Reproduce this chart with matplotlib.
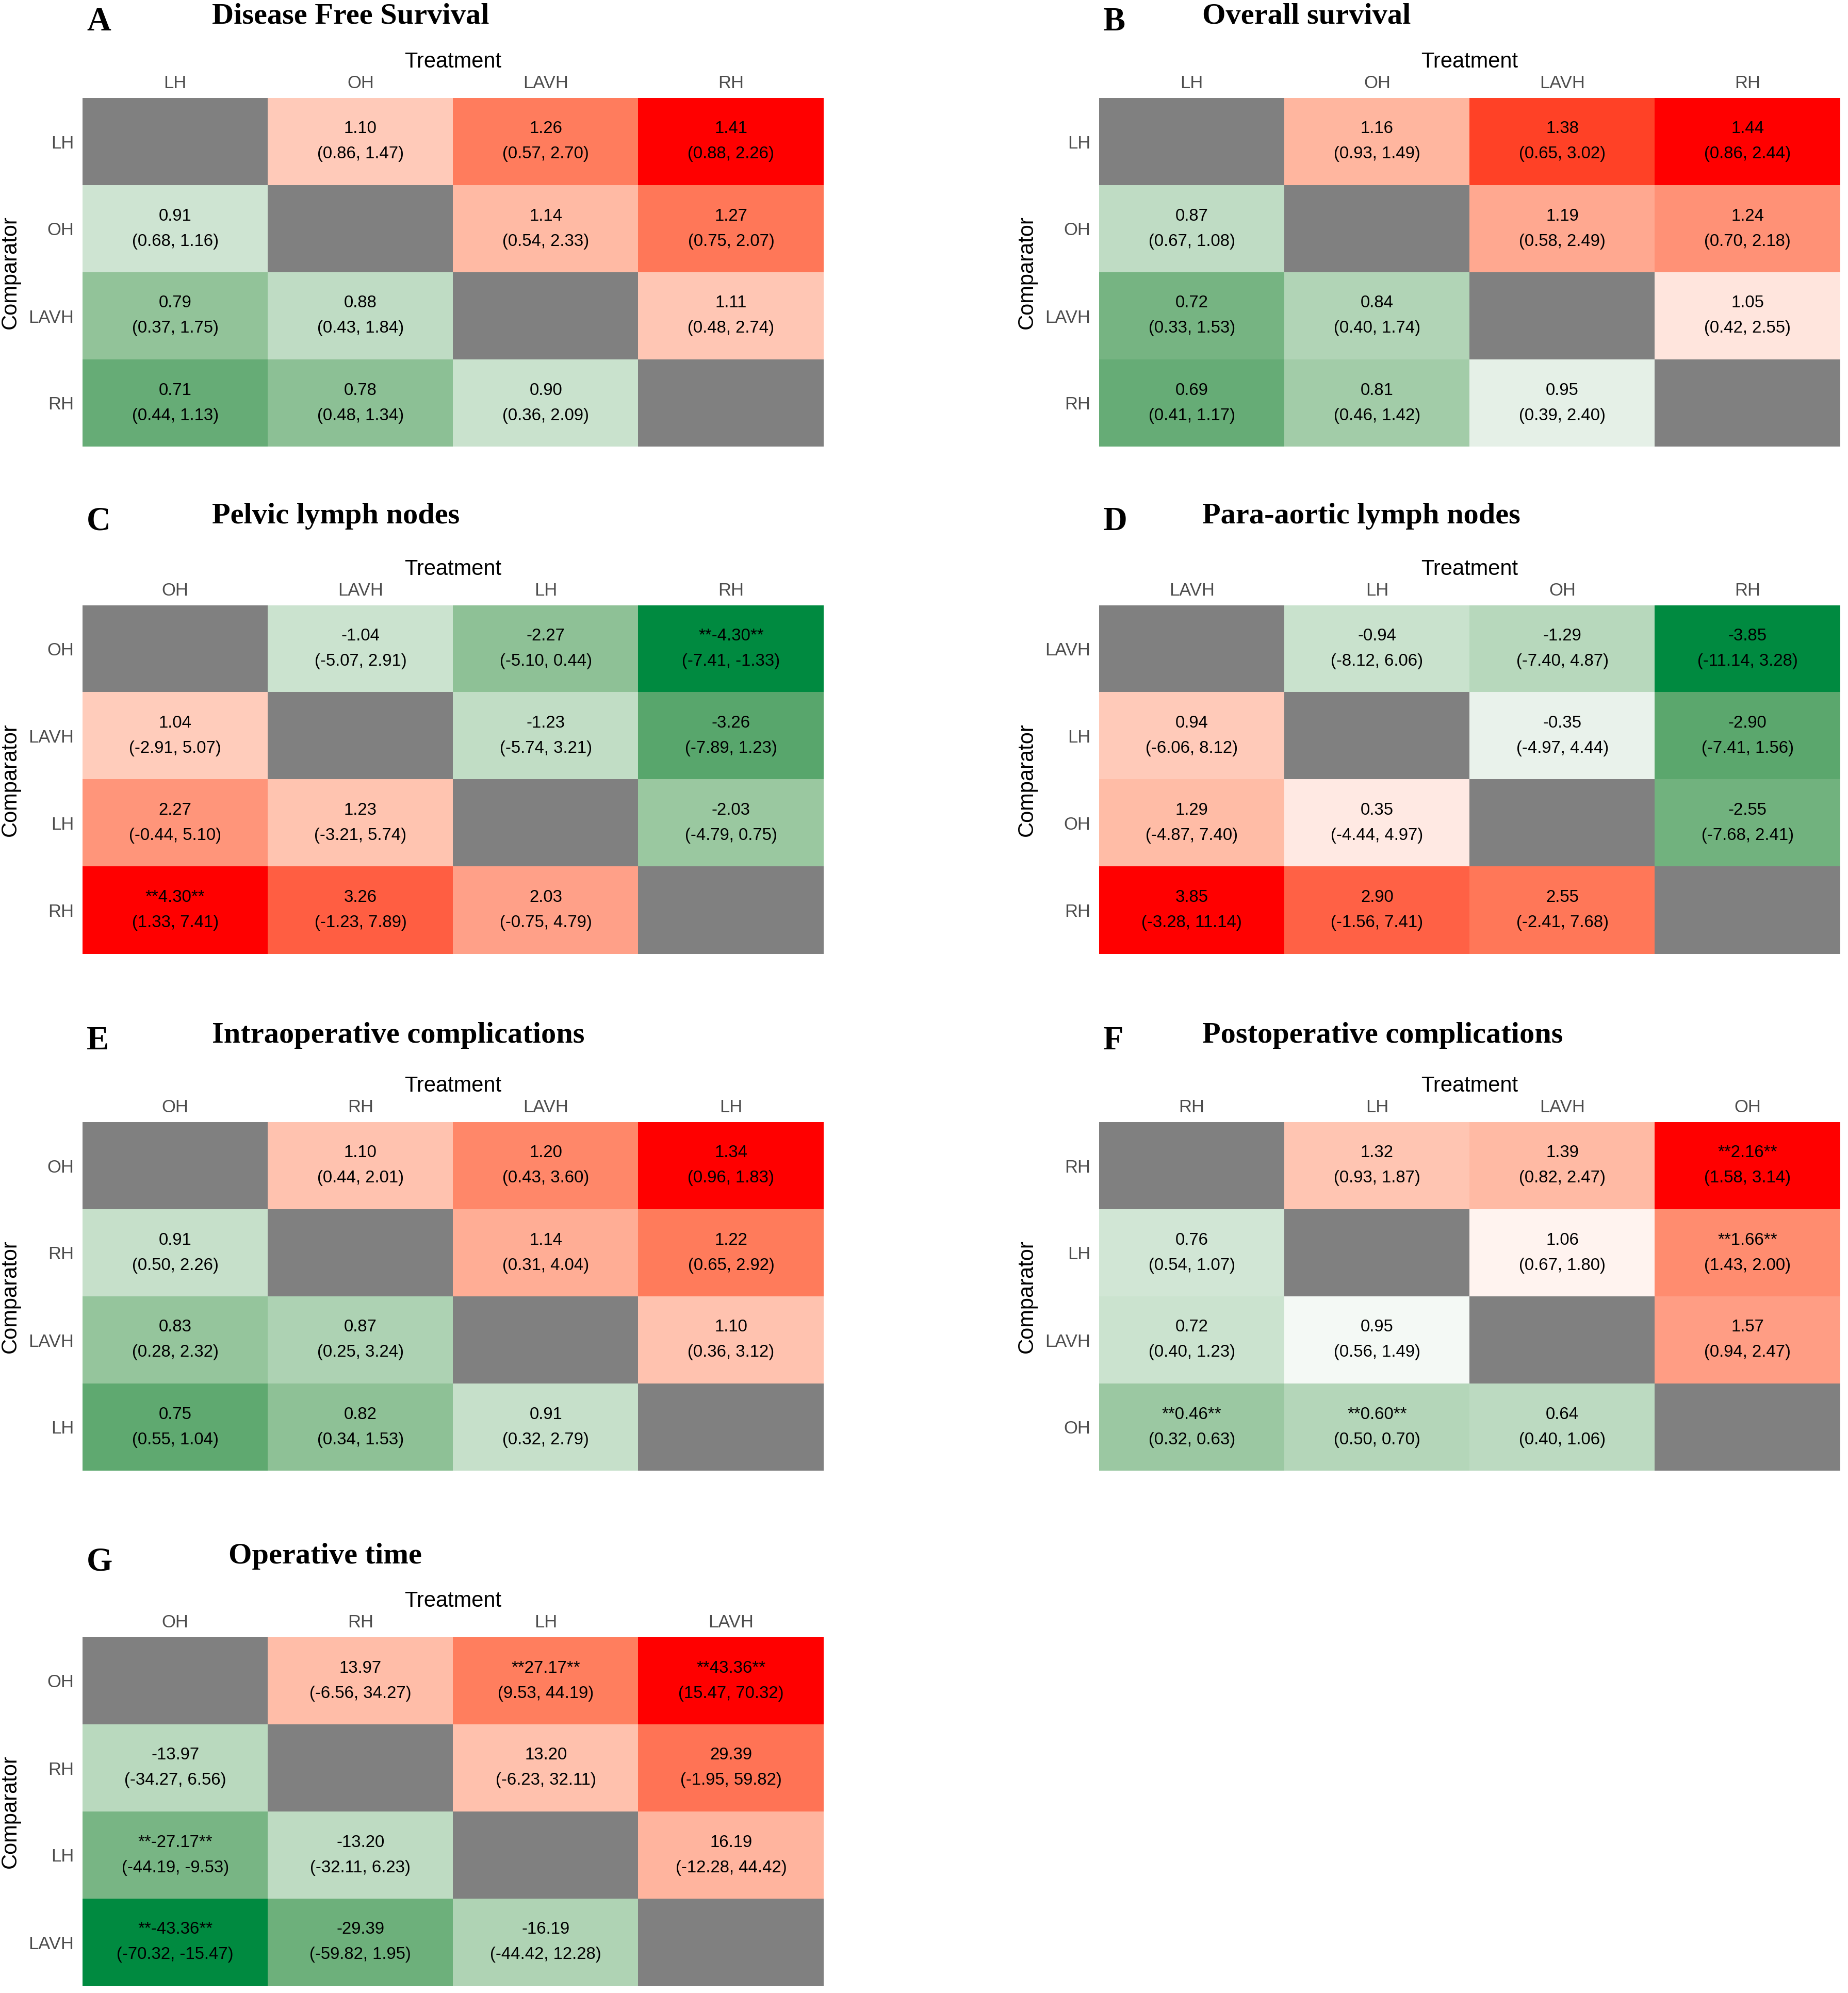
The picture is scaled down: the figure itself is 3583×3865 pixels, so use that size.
import numpy as np
import matplotlib.pyplot as plt
from matplotlib.colors import LinearSegmentedColormap, Normalize

W, H = 3583, 3865
DPI = 300
nan = np.nan

# A - Disease Free Survival (hazard ratio)
dfs_order = ["LH", "OH", "LAVH", "RH"]
dfs_val = [[nan, 1.10, 1.26, 1.41], [0.91, nan, 1.14, 1.27], [0.79, 0.88, nan, 1.11], [0.71, 0.78, 0.90, nan]]
dfs_lo = [[nan, 0.86, 0.57, 0.88], [0.68, nan, 0.54, 0.75], [0.37, 0.43, nan, 0.48], [0.44, 0.48, 0.36, nan]]
dfs_hi = [[nan, 1.47, 2.70, 2.26], [1.16, nan, 2.33, 2.07], [1.75, 1.84, nan, 2.74], [1.13, 1.34, 2.09, nan]]

# B - Overall survival
os_order = ["LH", "OH", "LAVH", "RH"]
os_val = [[nan, 1.16, 1.38, 1.44], [0.87, nan, 1.19, 1.24], [0.72, 0.84, nan, 1.05], [0.69, 0.81, 0.95, nan]]
os_lo = [[nan, 0.93, 0.65, 0.86], [0.67, nan, 0.58, 0.70], [0.33, 0.40, nan, 0.42], [0.41, 0.46, 0.39, nan]]
os_hi = [[nan, 1.49, 3.02, 2.44], [1.08, nan, 2.49, 2.18], [1.53, 1.74, nan, 2.55], [1.17, 1.42, 2.40, nan]]

# C - Pelvic lymph nodes (mean difference)
pln_order = ["OH", "LAVH", "LH", "RH"]
pln_val = [[nan, -1.04, -2.27, -4.30], [1.04, nan, -1.23, -3.26], [2.27, 1.23, nan, -2.03], [4.30, 3.26, 2.03, nan]]
pln_lo = [[nan, -5.07, -5.10, -7.41], [-2.91, nan, -5.74, -7.89], [-0.44, -3.21, nan, -4.79], [1.33, -1.23, -0.75, nan]]
pln_hi = [[nan, 2.91, 0.44, -1.33], [5.07, nan, 3.21, 1.23], [5.10, 5.74, nan, 0.75], [7.41, 7.89, 4.79, nan]]

# D - Para-aortic lymph nodes
paln_order = ["LAVH", "LH", "OH", "RH"]
paln_val = [[nan, -0.94, -1.29, -3.85], [0.94, nan, -0.35, -2.90], [1.29, 0.35, nan, -2.55], [3.85, 2.90, 2.55, nan]]
paln_lo = [[nan, -8.12, -7.40, -11.14], [-6.06, nan, -4.97, -7.41], [-4.87, -4.44, nan, -7.68], [-3.28, -1.56, -2.41, nan]]
paln_hi = [[nan, 6.06, 4.87, 3.28], [8.12, nan, 4.44, 1.56], [7.40, 4.97, nan, 2.41], [11.14, 7.41, 7.68, nan]]

# E - Intraoperative complications (odds ratio)
intra_order = ["OH", "RH", "LAVH", "LH"]
intra_val = [[nan, 1.10, 1.20, 1.34], [0.91, nan, 1.14, 1.22], [0.83, 0.87, nan, 1.10], [0.75, 0.82, 0.91, nan]]
intra_lo = [[nan, 0.44, 0.43, 0.96], [0.50, nan, 0.31, 0.65], [0.28, 0.25, nan, 0.36], [0.55, 0.34, 0.32, nan]]
intra_hi = [[nan, 2.01, 3.60, 1.83], [2.26, nan, 4.04, 2.92], [2.32, 3.24, nan, 3.12], [1.04, 1.53, 2.79, nan]]

# F - Postoperative complications
post_order = ["RH", "LH", "LAVH", "OH"]
post_val = [[nan, 1.32, 1.39, 2.16], [0.76, nan, 1.06, 1.66], [0.72, 0.95, nan, 1.57], [0.46, 0.60, 0.64, nan]]
post_lo = [[nan, 0.93, 0.82, 1.58], [0.54, nan, 0.67, 1.43], [0.40, 0.56, nan, 0.94], [0.32, 0.50, 0.40, nan]]
post_hi = [[nan, 1.87, 2.47, 3.14], [1.07, nan, 1.80, 2.00], [1.23, 1.49, nan, 2.47], [0.63, 0.70, 1.06, nan]]

# G - Operative time
ot_order = ["OH", "RH", "LH", "LAVH"]
ot_val = [[nan, 13.97, 27.17, 43.36], [-13.97, nan, 13.20, 29.39], [-27.17, -13.20, nan, 16.19], [-43.36, -29.39, -16.19, nan]]
ot_lo = [[nan, -6.56, 9.53, 15.47], [-34.27, nan, -6.23, -1.95], [-44.19, -32.11, nan, -12.28], [-70.32, -59.82, -44.42, nan]]
ot_hi = [[nan, 34.27, 44.19, 70.32], [6.56, nan, 32.11, 59.82], [-9.53, 6.23, nan, 44.42], [-15.47, 1.95, 12.28, nan]]

# green (favour) -> white -> red
cmap = LinearSegmentedColormap.from_list("gwr", [
    (0.0, "#008A40"), (0.125, "#5EA86F"), (0.245, "#93C49A"), (0.38, "#CBE3CF"),
    (0.455, "#EAF3EC"), (0.5, "#FFFFFF"), (0.545, "#FFEAE4"), (0.62, "#FFCCBB"),
    (0.67, "#FFBBA5"), (0.745, "#FF9E85"), (0.815, "#FF7F5F"), (0.875, "#FF6347"),
    (0.93, "#FF4528"), (1.0, "#FF0000")])
cmap.set_bad("#808080")

SANS = "Liberation Sans"
SERIF = "Liberation Serif"

fig = plt.figure(figsize=(W / DPI, H / DPI), dpi=DPI)


def fx(px):
    return px / W


def fy(py):
    return 1 - py / H


def draw_panel(letter, title, order, val, lo, hi, null, x0, y0, title_x, base):
    w, h = 1437, 676
    v = np.array(val, dtype=float)
    lo = np.array(lo, dtype=float)
    hi = np.array(hi, dtype=float)
    d = np.nanmax(np.abs(v - null))
    norm = Normalize(null - d, null + d)
    ax = fig.add_axes([fx(x0), fy(y0 + h), w / W, h / H])
    ax.imshow(np.ma.masked_invalid(v), cmap=cmap, norm=norm, aspect="auto",
              interpolation="nearest")
    n = len(order)
    for i in range(n):
        for j in range(n):
            if np.isnan(v[i, j]):
                continue
            s = f"{v[i, j]:.2f}"
            if lo[i, j] > null or hi[i, j] < null:
                s = "**" + s + "**"
            ax.text(j, i, s + "\n" + f"({lo[i, j]:.2f}, {hi[i, j]:.2f})",
                    ha="center", va="center", fontsize=7.9, family=SANS,
                    linespacing=1.75, color="black")
    ax.set_xticks(range(n))
    ax.set_xticklabels(order)
    ax.set_yticks(range(n))
    ax.set_yticklabels(order)
    ax.xaxis.tick_top()
    ax.tick_params(length=0, labelsize=8.3, labelcolor="#4D4D4D", pad=4)
    ax.tick_params(axis="x", pad=2.8)
    for lab in ax.get_xticklabels() + ax.get_yticklabels():
        lab.set_family(SANS)
    for sp in ax.spines.values():
        sp.set_visible(False)

    fig.text(fx(x0 + w / 2), fy(y0 - 70), "Treatment", ha="center", va="center",
             fontsize=10, family=SANS)
    fig.text(fx(x0 - 140), fy(y0 + h / 2), "Comparator", ha="center", va="center",
             rotation=90, fontsize=10, family=SANS)
    fig.text(fx(x0 + 8), fy(base + 13), letter, ha="left", va="baseline",
             fontsize=15.5, family=SERIF, weight="bold")
    fig.text(fx(title_x), fy(base), title, ha="left", va="baseline",
             fontsize=14, family=SERIF, weight="bold")


LX, RX = 160, 2131
tops = [190, 1174, 2176, 3175]
bases = [46, 1015, 2022, 3032]

draw_panel("A", "Disease Free Survival", dfs_order, dfs_val, dfs_lo, dfs_hi, 1, LX, tops[0], 411, bases[0])
draw_panel("B", "Overall survival", os_order, os_val, os_lo, os_hi, 1, RX, tops[0], 2331, bases[0])
draw_panel("C", "Pelvic lymph nodes", pln_order, pln_val, pln_lo, pln_hi, 0, LX, tops[1], 411, bases[1])
draw_panel("D", "Para-aortic lymph nodes", paln_order, paln_val, paln_lo, paln_hi, 0, RX, tops[1], 2331, bases[1])
draw_panel("E", "Intraoperative complications", intra_order, intra_val, intra_lo, intra_hi, 1, LX, tops[2], 411, bases[2])
draw_panel("F", "Postoperative complications", post_order, post_val, post_lo, post_hi, 1, RX, tops[2], 2331, bases[2])
draw_panel("G", "Operative time", ot_order, ot_val, ot_lo, ot_hi, 0, LX, tops[3], 443, bases[3])

fig.savefig("out.png", dpi=DPI)
